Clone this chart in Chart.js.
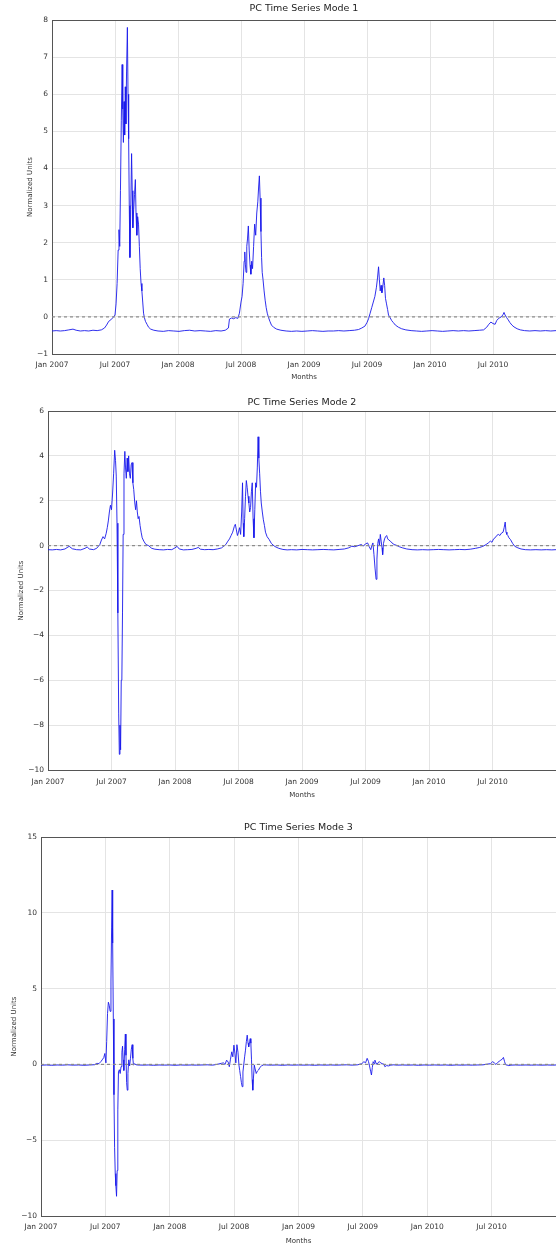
<!DOCTYPE html>
<html><head><meta charset="utf-8">
<script src="https://cdn.jsdelivr.net/npm/chart.js@4.4.0/dist/chart.umd.min.js"></script>
<style>
html,body{margin:0;padding:0;background:#fff;width:556px;height:1245px;overflow:hidden;}
canvas{position:absolute;left:0;}
</style></head><body>
<canvas id="c1" width="556" height="385" style="top:0px"></canvas>
<canvas id="c2" width="556" height="415" style="top:385px"></canvas>
<canvas id="c3" width="556" height="445" style="top:800px"></canvas>
<script>
// ---- data (months since Jan 2007) ----
const xTickLabels = ['Jan 2007','Jul 2007','Jan 2008','Jul 2008','Jan 2009','Jul 2009','Jan 2010','Jul 2010',''];
const zeroLineMonths = [0, 48];
const zeroLineValues = [0, 0];

const mode1Months = [0.0,0.4,0.8,1.2,1.6,2.0,2.3,2.7,3.1,3.5,3.9,4.3,4.7,5.0,5.2,5.4,5.6,5.8,6.0,6.1,6.2,6.3,6.38,6.45,6.52,6.6,6.68,6.74,6.8,6.86,6.92,6.98,7.04,7.1,7.18,7.24,7.3,7.36,7.42,7.5,7.58,7.64,7.7,7.78,7.86,7.94,8.0,8.08,8.16,8.24,8.32,8.4,8.48,8.56,8.64,8.72,8.8,8.9,9.05,9.2,9.4,9.7,10.1,10.6,11.1,11.6,12.1,12.6,13.1,13.6,14.1,14.6,15.1,15.6,16.1,16.5,16.8,16.9,17.1,17.3,17.5,17.7,17.85,18.0,18.1,18.2,18.3,18.36,18.42,18.48,18.55,18.62,18.7,18.78,18.86,18.94,19.02,19.1,19.2,19.3,19.4,19.5,19.6,19.68,19.75,19.82,19.9,19.96,20.02,20.1,20.2,20.3,20.4,20.5,20.6,20.75,20.9,21.1,21.4,21.8,22.3,22.8,23.3,23.8,24.3,24.8,25.3,25.8,26.3,26.8,27.3,27.8,28.3,28.8,29.2,29.5,29.8,30.0,30.15,30.3,30.45,30.6,30.75,30.9,31.0,31.1,31.18,31.26,31.34,31.42,31.5,31.6,31.68,31.76,31.86,31.96,32.05,32.2,32.35,32.5,32.7,33.0,33.3,33.7,34.2,34.7,35.2,35.7,36.2,36.7,37.2,37.7,38.2,38.7,39.2,39.7,40.2,40.7,41.1,41.4,41.6,41.8,42.0,42.2,42.35,42.5,42.65,42.8,42.95,43.05,43.15,43.3,43.45,43.6,43.8,44.0,44.3,44.6,45.0,45.5,46.0,46.5,47.0,47.5,48.0];
const mode1Values = [-0.38,-0.37,-0.38,-0.37,-0.35,-0.33,-0.36,-0.38,-0.37,-0.38,-0.36,-0.37,-0.35,-0.30,-0.22,-0.12,-0.08,-0.02,0.05,0.35,0.9,1.8,2.35,1.9,3.4,5.3,6.8,5.6,4.7,5.8,4.9,6.2,5.2,6.6,7.8,6.0,4.8,3.0,1.6,2.9,4.4,3.4,2.4,2.9,3.3,3.7,2.8,2.2,2.7,2.5,1.9,1.3,0.9,0.7,0.4,0.1,-0.02,-0.12,-0.2,-0.28,-0.33,-0.36,-0.38,-0.39,-0.37,-0.38,-0.39,-0.37,-0.36,-0.38,-0.37,-0.38,-0.39,-0.37,-0.38,-0.36,-0.30,-0.06,-0.03,-0.05,-0.02,-0.04,0.1,0.4,0.55,0.9,1.5,1.75,1.4,1.2,1.9,2.1,2.45,1.8,1.4,1.15,1.5,1.3,1.9,2.5,2.2,2.8,3.1,3.5,3.8,3.2,2.3,1.6,1.2,1.0,0.7,0.45,0.25,0.1,0.0,-0.12,-0.22,-0.28,-0.33,-0.36,-0.38,-0.39,-0.38,-0.39,-0.38,-0.37,-0.38,-0.39,-0.38,-0.38,-0.37,-0.38,-0.37,-0.36,-0.34,-0.30,-0.25,-0.15,-0.05,0.1,0.25,0.4,0.55,0.8,1.05,1.35,1.0,0.7,0.85,0.65,0.8,1.05,0.85,0.5,0.35,0.2,0.05,-0.02,-0.1,-0.15,-0.22,-0.28,-0.32,-0.35,-0.37,-0.38,-0.39,-0.38,-0.37,-0.38,-0.39,-0.38,-0.37,-0.38,-0.37,-0.38,-0.37,-0.36,-0.35,-0.28,-0.2,-0.14,-0.18,-0.2,-0.1,-0.05,-0.02,0.0,0.06,0.12,0.05,-0.02,-0.08,-0.15,-0.22,-0.27,-0.32,-0.35,-0.37,-0.38,-0.37,-0.38,-0.37,-0.38,-0.37];

const mode2Months = [0.0,0.4,0.8,1.2,1.6,2.0,2.3,2.7,3.1,3.5,3.7,3.9,4.3,4.6,4.9,5.05,5.2,5.35,5.5,5.6,5.7,5.8,5.9,6.0,6.1,6.2,6.3,6.38,6.45,6.52,6.6,6.68,6.74,6.8,6.86,6.92,6.98,7.04,7.1,7.18,7.26,7.32,7.4,7.48,7.55,7.62,7.7,7.78,7.86,7.94,8.02,8.1,8.2,8.28,8.36,8.44,8.52,8.6,8.7,8.8,8.9,9.05,9.25,9.5,9.8,10.1,10.5,10.9,11.3,11.7,12.0,12.2,12.4,12.8,13.2,13.6,14.0,14.2,14.4,14.8,15.2,15.6,16.0,16.4,16.8,17.0,17.15,17.3,17.45,17.6,17.7,17.8,17.9,18.0,18.1,18.2,18.3,18.38,18.44,18.5,18.58,18.66,18.74,18.82,18.9,18.98,19.06,19.14,19.22,19.3,19.38,19.46,19.54,19.62,19.7,19.78,19.85,19.92,20.0,20.08,20.15,20.25,20.35,20.45,20.55,20.7,20.9,21.1,21.4,21.8,22.2,22.6,23.0,23.5,24.0,24.5,25.0,25.5,26.0,26.5,27.0,27.5,28.0,28.4,28.7,29.0,29.3,29.6,29.8,30.0,30.2,30.35,30.5,30.6,30.7,30.8,30.9,31.0,31.08,31.16,31.24,31.32,31.4,31.48,31.56,31.62,31.7,31.8,31.9,32.0,32.1,32.2,32.35,32.5,32.7,32.9,33.2,33.5,33.9,34.4,34.9,35.4,35.9,36.4,36.9,37.4,37.9,38.4,38.9,39.4,39.9,40.4,40.8,41.1,41.4,41.6,41.8,41.95,42.1,42.25,42.4,42.55,42.7,42.85,43.0,43.1,43.2,43.28,43.36,43.45,43.55,43.7,43.9,44.1,44.4,44.7,45.1,45.6,46.1,46.6,47.1,47.6,48.0];
const mode2Values = [-0.18,-0.19,-0.17,-0.19,-0.15,-0.03,-0.14,-0.18,-0.19,-0.12,-0.06,-0.15,-0.18,-0.12,0.05,0.25,0.4,0.3,0.55,0.8,1.1,1.5,1.8,1.6,2.3,3.2,4.25,3.8,3.1,1.0,-3.0,-7.5,-9.3,-8.0,-9.1,-6.0,-5.9,-3.0,0.5,3.2,4.2,3.5,3.0,3.9,3.3,4.0,3.2,3.0,3.6,3.7,2.8,2.5,1.9,1.6,2.0,1.5,1.2,1.3,0.9,0.6,0.35,0.2,0.05,0.0,-0.12,-0.16,-0.18,-0.19,-0.17,-0.18,-0.1,-0.03,-0.15,-0.19,-0.18,-0.17,-0.12,-0.08,-0.16,-0.18,-0.17,-0.18,-0.15,-0.1,0.05,0.2,0.3,0.45,0.6,0.85,0.95,0.7,0.45,0.6,0.8,0.5,1.5,2.8,1.0,0.4,1.2,2.2,2.9,2.6,2.2,1.9,1.5,1.7,2.4,2.8,1.2,0.35,1.6,2.8,2.6,3.5,4.85,3.9,3.2,2.4,1.9,1.5,1.15,0.9,0.6,0.4,0.27,0.1,-0.03,-0.12,-0.17,-0.19,-0.18,-0.19,-0.17,-0.18,-0.19,-0.18,-0.17,-0.18,-0.19,-0.17,-0.15,-0.1,-0.03,-0.05,0.0,0.05,-0.02,0.08,0.12,-0.05,-0.18,0.0,0.12,-0.4,-1.0,-1.5,-0.6,0.1,0.3,0.0,0.5,0.2,-0.1,-0.4,0.1,0.3,0.4,0.45,0.3,0.25,0.2,0.12,0.05,0.02,-0.05,-0.1,-0.15,-0.18,-0.19,-0.18,-0.19,-0.18,-0.17,-0.18,-0.19,-0.18,-0.17,-0.18,-0.16,-0.12,-0.08,-0.03,0.05,0.12,0.2,0.15,0.3,0.35,0.45,0.5,0.45,0.56,0.6,0.8,1.05,0.6,0.5,0.45,0.35,0.27,0.1,-0.03,-0.1,-0.15,-0.18,-0.19,-0.18,-0.19,-0.18,-0.19,-0.18];

const mode3Months = [0.0,0.5,1.0,1.5,2.0,2.5,3.0,3.5,4.0,4.5,5.0,5.2,5.4,5.6,5.75,5.85,5.95,6.05,6.12,6.2,6.28,6.36,6.44,6.52,6.58,6.63,6.68,6.74,6.8,6.86,6.92,6.98,7.04,7.1,7.16,7.22,7.3,7.38,7.46,7.54,7.6,7.66,7.72,7.8,7.86,7.92,7.98,8.04,8.1,8.18,8.26,8.34,8.42,8.5,8.56,8.62,8.72,8.85,9.0,9.5,10.0,10.5,11.0,11.5,12.0,12.5,13.0,13.5,14.0,14.5,15.0,15.5,16.0,16.4,16.8,17.0,17.15,17.3,17.45,17.55,17.65,17.78,17.88,17.98,18.08,18.16,18.26,18.36,18.45,18.52,18.6,18.68,18.75,18.82,18.9,18.98,19.06,19.14,19.22,19.3,19.36,19.44,19.5,19.56,19.62,19.68,19.74,19.8,19.88,19.96,20.06,20.16,20.28,20.4,20.55,20.75,21.0,21.5,22.0,22.5,23.0,23.5,24.0,24.5,25.0,25.5,26.0,26.5,27.0,27.5,28.0,28.5,29.0,29.5,29.9,30.1,30.25,30.4,30.52,30.62,30.72,30.8,30.88,30.96,31.05,31.12,31.22,31.32,31.42,31.55,31.65,31.8,31.95,32.05,32.2,32.4,32.6,32.85,33.2,33.7,34.2,34.7,35.2,35.7,36.2,36.7,37.2,37.7,38.2,38.7,39.2,39.7,40.2,40.7,41.2,41.6,41.9,42.1,42.25,42.4,42.55,42.7,42.85,43.0,43.1,43.2,43.3,43.45,43.6,43.8,44.2,44.7,45.2,45.7,46.2,46.7,47.2,47.7,48.0];
const mode3Values = [-0.05,-0.04,-0.06,-0.04,-0.05,-0.03,-0.05,-0.04,-0.06,-0.04,-0.02,0.07,0.05,0.2,0.35,0.45,0.72,0.1,1.5,3.35,4.1,3.9,3.5,5.5,9.0,11.5,8.0,3.0,-2.0,-5.5,-7.2,-8.0,-8.7,-7.0,-3.0,-0.5,-0.35,-0.6,-0.15,0.8,1.2,0.3,-0.4,1.0,2.0,0.6,-1.2,-1.7,-0.6,0.3,-0.1,0.4,1.0,1.3,0.4,-0.05,0.05,-0.02,-0.04,-0.05,-0.04,-0.06,-0.04,-0.05,-0.04,-0.06,-0.04,-0.05,-0.04,-0.05,-0.04,-0.03,-0.05,0.0,0.07,0.1,0.0,0.28,0.15,-0.15,0.3,0.83,0.5,1.27,0.7,0.1,1.3,0.8,-0.05,-0.4,-0.8,-1.2,-1.47,-0.5,0.0,0.5,0.94,1.5,1.93,1.4,1.16,1.5,1.7,1.4,0.3,-1.0,-1.7,-0.9,-0.05,-0.3,-0.6,-0.45,-0.37,-0.2,-0.1,-0.03,-0.04,-0.05,-0.04,-0.06,-0.04,-0.05,-0.04,-0.05,-0.04,-0.06,-0.04,-0.05,-0.04,-0.05,-0.04,-0.03,-0.05,-0.03,0.05,0.18,0.1,0.4,0.2,-0.1,-0.45,-0.7,-0.2,0.18,0.05,0.28,0.1,0.0,0.12,0.18,0.1,0.05,0.02,-0.15,-0.08,-0.1,-0.05,-0.03,-0.05,-0.04,-0.05,-0.04,-0.06,-0.04,-0.05,-0.04,-0.05,-0.04,-0.06,-0.04,-0.05,-0.04,-0.05,-0.04,-0.03,0.02,0.05,0.18,0.1,0.0,0.12,0.2,0.28,0.35,0.46,0.2,-0.02,-0.05,-0.08,-0.05,-0.04,-0.05,-0.04,-0.05,-0.04,-0.05,-0.04,-0.05,-0.04];

// ---- drawing ----
const FONT = 'DejaVu Sans';
const LINE_COLOR = 'rgba(25,25,235,0.9)';
const GRID = '#e4e4e4';
const FRAME = '#555555';

function pts(xs, ys) { return xs.map((x, i) => ({ x: x, y: ys[i] })); }
function fmt(v) { return v < 0 ? '\u2212' + Math.abs(v) : String(v); }

function makeChart(id, titleText, months, values, yMin, yMax, yStep, g) {
  return new Chart(document.getElementById(id), {
    type: 'line',
    data: {
      datasets: [
        { data: pts(months, values), borderColor: LINE_COLOR, borderWidth: 1, pointRadius: 0, tension: 0, fill: false, order: 1 },
        { data: pts(zeroLineMonths, zeroLineValues), borderColor: '#8a8a8a', borderWidth: 1.2, borderDash: [3, 3], pointRadius: 0, fill: false, order: 0 }
      ]
    },
    options: {
      responsive: false, animation: false, devicePixelRatio: 1,
      layout: { padding: 0 },
      plugins: {
        legend: { display: false }, tooltip: { enabled: false },
        title: { display: true, fullSize: false, text: titleText, color: '#222', font: { family: FONT, size: 9.5, weight: 'normal' },
                 padding: { top: g.titleTop, bottom: g.titleBottom } }
      },
      scales: {
        x: {
          type: 'linear', min: 0, max: 48,
          ticks: { stepSize: 6, autoSkip: false, maxRotation: 0, color: '#333', padding: 0,
                   font: { family: FONT, size: 7.5 }, callback: (v, i) => xTickLabels[i] },
          grid: { color: GRID, drawTicks: true, tickLength: g.xTickPad, tickColor: 'rgba(0,0,0,0)' },
          border: { color: FRAME, width: 1 },
          title: { display: true, text: 'Months', color: '#333', font: { family: FONT, size: 7 }, padding: { top: 0, bottom: g.monthsPad } },
          afterFit: s => { s.height = g.xHeight; }
        },
        y: {
          min: yMin, max: yMax,
          ticks: { stepSize: yStep, color: '#333', padding: 4, font: { family: FONT, size: 7.5 }, callback: v => fmt(v) },
          grid: { color: ctx => (ctx.tick && ctx.tick.value === yMax) ? FRAME : GRID, drawTicks: false },
          border: { color: FRAME, width: 1 },
          title: { display: true, text: 'Normalized Units', color: '#333', font: { family: FONT, size: 7 }, padding: { top: g.yTitlePad, bottom: 0 } },
          afterFit: s => { s.width = g.yWidth; }
        }
      }
    }
  });
}

makeChart('c1', 'PC Time Series Mode 1', mode1Months, mode1Values, -1, 8, 1,
  { titleTop: 3, titleBottom: 5.6, xHeight: 31, xTickPad: 7, monthsPad: 4, yWidth: 52, yTitlePad: 26 });
makeChart('c2', 'PC Time Series Mode 2', mode2Months, mode2Values, -10, 6, 2,
  { titleTop: 12, titleBottom: 2.6, xHeight: 30, xTickPad: 8, monthsPad: 1, yWidth: 48, yTitlePad: 17 });
makeChart('c3', 'PC Time Series Mode 3', mode3Months, mode3Values, -10, 15, 5,
  { titleTop: 22, titleBottom: 3.6, xHeight: 29, xTickPad: 7, monthsPad: 0, yWidth: 41, yTitlePad: 10 });
</script>
</body></html>
